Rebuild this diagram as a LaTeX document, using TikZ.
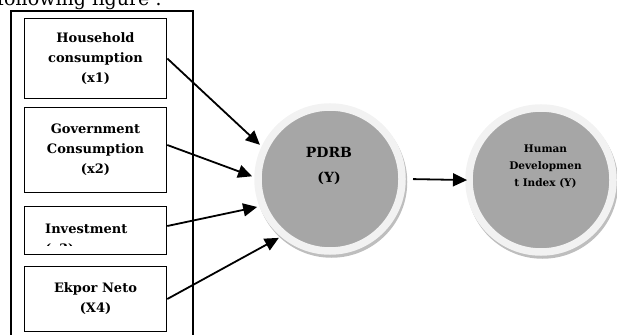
\documentclass[tikz,border=0pt]{standalone}
\usepackage{fontspec}
\setmainfont{DejaVu Serif}
\usetikzlibrary{positioning, calc, arrows.meta}

\definecolor{ringgray}{HTML}{F2F2F2}
\definecolor{discgray}{HTML}{A6A6A6}
\definecolor{shadegray}{HTML}{BEBEBE}

\tikzset{
  varbox/.style={draw, line width=1.6pt, minimum width=142pt, inner sep=0pt,
    font=\bfseries\fontsize{13}{20}\selectfont, align=center},
  bubble/.style={circle, fill=discgray, draw=ringgray, line width=7.5pt,
    minimum size=144pt, inner sep=0pt, outer sep=6pt,
    preaction={draw=shadegray, fill=shadegray, line width=7.5pt,
      transform canvas={shift={(1.5pt,-3pt)}}}},
  link/.style={-{Triangle[length=14pt,width=13pt]}, line width=1.8pt},
}

\begin{document}
\begin{tikzpicture}[x=1pt, y=-1pt]
    \useasboundingbox (0,0) rectangle (617,334);

    % Caption line, cut at the top
    \node[anchor=base west, inner sep=0pt, font=\fontsize{19}{24}\selectfont] (caption) at (-3,6) {following figure :};

    % Frame round the variables
    \draw[line width=1.6pt] (11,11) rectangle (193,345);

    % Independent variables
    \node[varbox, minimum height=80pt] (b1) at (95.5,58.5) {Household\\consumption\\(x1)};
    \node[varbox, minimum height=85pt] (b2) at (95.5,150) {Government\\Consumption\\(x2)};
    \node[varbox, minimum height=48pt] (b3) at (95.5,230.5) {};
    \begin{scope}
      \clip (30,210) rectangle (160,245.5);
      \node[anchor=base west, inner sep=0pt, align=left, font=\bfseries\fontsize{13}{20}\selectfont] (b3label) at (45,253) {Investment\\(x3)};
    \end{scope}
    \node[varbox, minimum height=65pt] (b4) at (95.5,299) {Ekpor Neto\\(X4)};

    % Circles
    \node[bubble] (pdrb) at (330,179) {};
    \node[bubble] (hdi) at (541,180) {};
    \node[font=\bfseries\fontsize{14}{25}\selectfont, align=center] (pdrbtext) at (329,166) {PDRB\\(Y)};
    \node[font=\bfseries\fontsize{10.5}{17}\selectfont, align=center] (hditext) at (545.5,166) {Human\\Developmen\\t Index (Y)};

    % Arrows
    \draw[link] (b1.east) -- (pdrb.154);
    \draw[link] ($(b2.east)+(0,-5)$) -- (pdrb.178);
    \draw[link] ($(b3.east)+(0,-4.5)$) -- (pdrb.201);
    \draw[link] (b4.east) -- (pdrb.229);
    \draw[link, shorten <=5pt, shorten >=-4pt] (pdrb.east) -- (hdi.west);

\end{tikzpicture}
\end{document}
